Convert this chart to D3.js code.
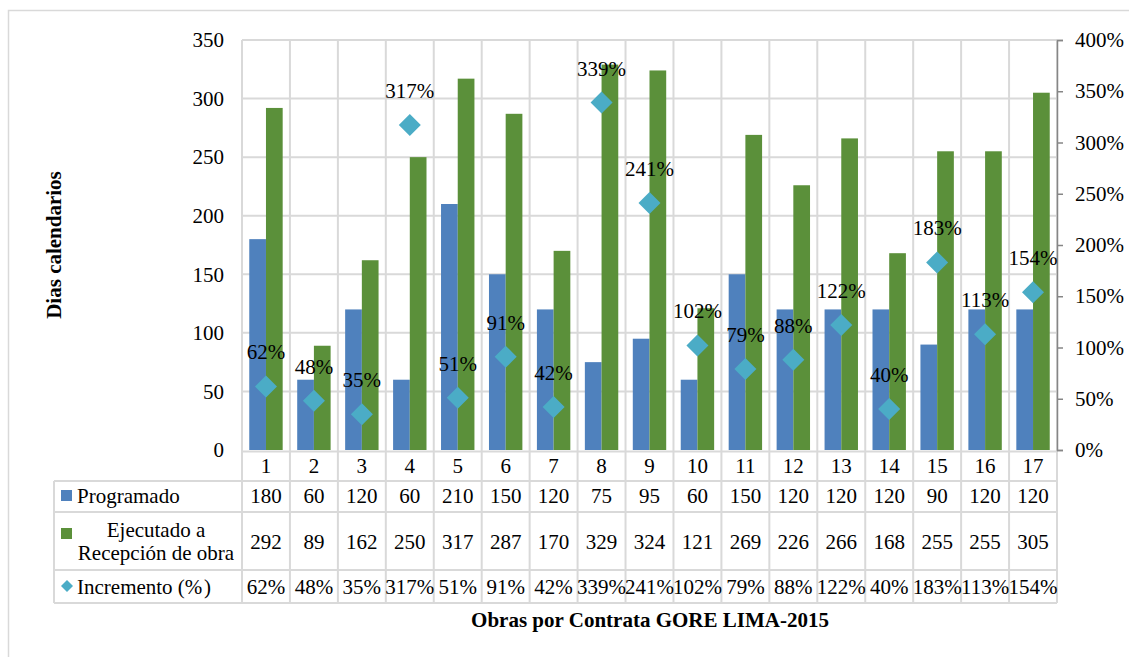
<!DOCTYPE html>
<html><head><meta charset="utf-8">
<script src="https://cdn.jsdelivr.net/npm/d3@7"></script>
<style>
body{margin:0;background:#fff;}
text{font-family:"Liberation Serif","Times New Roman",serif;fill:#000;}
</style></head>
<body><svg id="c" width="1129" height="657"></svg>
<script>
const categories = ["1","2","3","4","5","6","7","8","9","10","11","12","13","14","15","16","17"];
const programado = [180,60,120,60,210,150,120,75,95,60,150,120,120,120,90,120,120];
const ejecutado = [292,89,162,250,317,287,170,329,324,121,269,226,266,168,255,255,305];
const incremento = [62,48,35,317,51,91,42,339,241,102,79,88,122,40,183,113,154];
const leftTicks = [0,50,100,150,200,250,300,350];
const rightTicks = [0,50,100,150,200,250,300,350,400];
const seriesNames = ["Programado","Ejecutado a|Recepción de obra","Incremento (%\u200A)"];

const svg = d3.select("#c");
const grid = "#d9d9d9";
const blue = "#4f81bd", green = "#5b903a", cyan = "#4bacc6";
const FS = 21;
const FF = "Liberation Serif";

// outer border
svg.append("rect").attr("x",8.5).attr("y",10.5).attr("width",1140).attr("height",670)
  .attr("fill","none").attr("stroke",grid).attr("stroke-width",1.5);

const L = 242, R = 1057, T = 40, B = 450;
const x = d3.scaleBand().domain(categories).range([L,R]).paddingInner(0).paddingOuter(0);
const xs = d3.scaleBand().domain(["p","e"]).range([0,x.bandwidth()]).paddingInner(0).paddingOuter(0.435);
const y = d3.scaleLinear().domain([0,350]).range([B,T]);
const y2 = d3.scaleLinear().domain([0,400]).range([B,T]);

const rows = [451.5, 481, 512, 570, 603];
const tableLeft = 54;

svg.append("g").selectAll("line").data(leftTicks.filter(d=>d>0)).join("line")
  .attr("x1",L).attr("x2",R).attr("y1",d=>y(d)).attr("y2",d=>y(d))
  .attr("stroke",grid).attr("stroke-width",2);

const bounds = categories.map(c=>x(c)).concat([R]);
svg.append("g").selectAll("line").data(bounds).join("line")
  .attr("x1",d=>d).attr("x2",d=>d).attr("y1",T).attr("y2",rows[4])
  .attr("stroke",grid).attr("stroke-width",2);
svg.append("line").attr("x1",L).attr("x2",R).attr("y1",rows[0]).attr("y2",rows[0]).attr("stroke",grid).attr("stroke-width",2);
svg.append("g").selectAll("line").data(rows.slice(1)).join("line")
  .attr("x1",tableLeft).attr("x2",R).attr("y1",d=>d).attr("y2",d=>d)
  .attr("stroke",grid).attr("stroke-width",2);
svg.append("line").attr("x1",tableLeft).attr("x2",tableLeft).attr("y1",rows[1]).attr("y2",rows[4]).attr("stroke",grid).attr("stroke-width",2);

const bars = svg.append("g");
bars.selectAll(".bp").data(programado).join("rect")
  .attr("x",(d,i)=>x(categories[i])+xs("p")).attr("width",xs.bandwidth())
  .attr("y",d=>y(d)).attr("height",d=>B-y(d)).attr("fill",blue);
bars.selectAll(".be").data(ejecutado).join("rect")
  .attr("x",(d,i)=>x(categories[i])+xs("e")).attr("width",xs.bandwidth())
  .attr("y",d=>y(d)).attr("height",d=>B-y(d)).attr("fill",green);

const ax2 = svg.append("g").attr("transform",`translate(${R},0)`)
  .call(d3.axisRight(y2).tickValues(rightTicks).tickSize(6).tickFormat(d=>d+"%"));
ax2.attr("font-family",FF);
ax2.select(".domain").attr("stroke","#868686").attr("stroke-width",1.5);
ax2.selectAll(".tick line").attr("stroke","#868686").attr("stroke-width",1.5);
ax2.selectAll(".tick text").attr("x",18).attr("dy","0.32em").attr("font-size",FS)
  .attr("fill","#000").attr("text-anchor","start");

const ax = svg.append("g").attr("transform",`translate(${L},0)`)
  .call(d3.axisLeft(y).tickValues(leftTicks).tickSize(0));
ax.attr("font-family",FF);
ax.select(".domain").remove();
ax.selectAll(".tick text").attr("x",-18).attr("dy","0.32em").attr("font-size",FS).attr("fill","#000");

const cx = c=>x(c)+x.bandwidth()/2;
const dsz = 11;
svg.append("g").selectAll("path").data(incremento).join("path")
  .attr("d",(d,i)=>{const X=cx(categories[i]),Y=y2(d);return `M${X},${Y-dsz}L${X+dsz},${Y}L${X},${Y+dsz}L${X-dsz},${Y}Z`;})
  .attr("fill",cyan);
svg.append("g").selectAll("text").data(incremento).join("text")
  .attr("x",(d,i)=>cx(categories[i])).attr("y",d=>y2(d)-27)
  .attr("text-anchor","middle").attr("font-size",FS).text(d=>d+"%");

svg.append("g").selectAll("text").data(categories).join("text")
  .attr("x",d=>cx(d)).attr("y",473).attr("text-anchor","middle").attr("font-size",FS).text(d=>d);

const rowData = [
  {vals:programado.map(String), base:503},
  {vals:ejecutado.map(String), base:549},
  {vals:incremento.map(d=>d+"%"), base:594}
];
rowData.forEach(r=>{
  svg.append("g").selectAll("text").data(r.vals).join("text")
    .attr("x",(d,i)=>cx(categories[i])).attr("y",r.base).attr("text-anchor","middle")
    .attr("font-size",FS).text(d=>d);
});

svg.append("rect").attr("x",61).attr("y",490).attr("width",11).attr("height",11).attr("fill",blue);
svg.append("text").attr("x",77).attr("y",503).attr("font-size",FS).text(seriesNames[0]);
svg.append("rect").attr("x",61).attr("y",528).attr("width",11).attr("height",11).attr("fill",green);
const ej = seriesNames[1].split("|");
svg.append("text").attr("x",156).attr("y",537).attr("text-anchor","middle").attr("font-size",FS).text(ej[0]);
svg.append("text").attr("x",156).attr("y",560).attr("text-anchor","middle").attr("font-size",FS).text(ej[1]);
svg.append("path").attr("d","M67,580L73,586L67,592L61,586Z").attr("fill",cyan);
svg.append("text").attr("x",77).attr("y",594).attr("font-size",FS).text(seriesNames[2]);

svg.append("text").attr("x",650).attr("y",627).attr("text-anchor","middle").attr("font-size",FS)
  .attr("font-weight","bold").text("Obras por Contrata GORE LIMA-2015");
svg.append("text").attr("transform","translate(61,245) rotate(-90)").attr("text-anchor","middle")
  .attr("font-size",FS).attr("font-weight","bold").text("Dias calendarios");
</script></body></html>
